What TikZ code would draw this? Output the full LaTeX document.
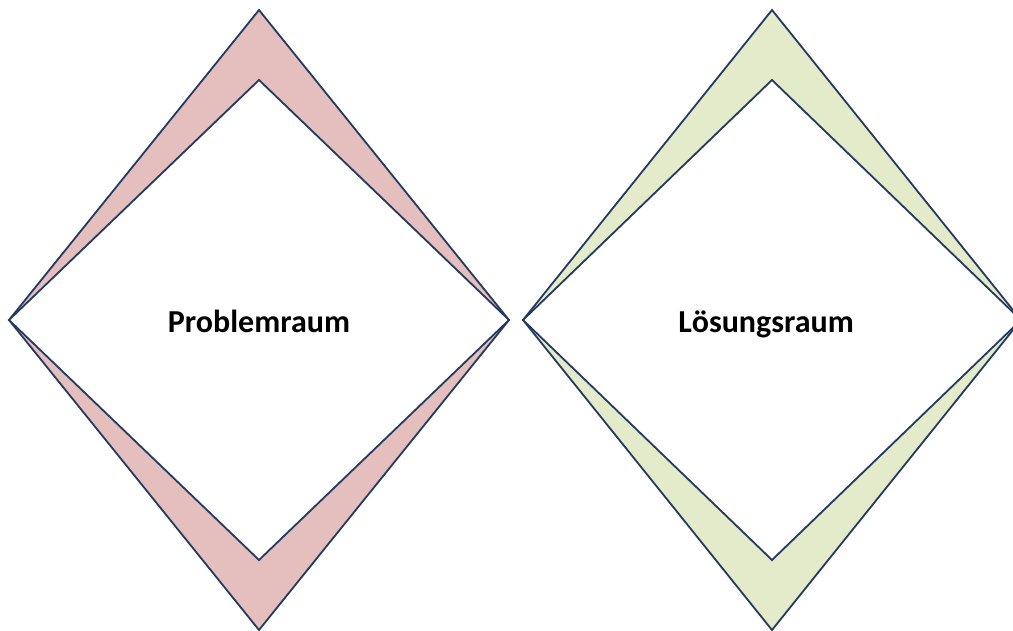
\documentclass[tikz,border=0pt]{standalone}
\usepackage{fontspec}
\setmainfont{Carlito}
\definecolor{edge}{HTML}{243A5E}
\definecolor{pinkfill}{HTML}{E5BEBE}
\definecolor{greenfill}{HTML}{E3EBCB}
\tikzset{
  shell/.style={draw=edge, line width=1.8pt, line join=miter},
  core/.style={draw=edge, line width=1.8pt, fill=white, line join=miter},
  lbl/.style={font=\bfseries\fontsize{32}{38}\selectfont, text=black, anchor=base}
}
\begin{document}
\begin{tikzpicture}[x=1pt,y=-1pt]
\useasboundingbox (0,0) rectangle (1013,630);
% left diamond
\coordinate (lt) at (259,10);
\coordinate (ll) at (9,320);
\coordinate (lr) at (509,320);
\coordinate (lb) at (259,630);
\coordinate (lit) at (259,80);
\coordinate (lib) at (259,560);
\draw[shell, fill=pinkfill] (lt) -- (lr) -- (lb) -- (ll) -- cycle;
\draw[core] (lit) -- (lr) -- (lib) -- (ll) -- cycle;
\node[lbl] (p) at (259,332) {Problemraum};
% right diamond
\coordinate (rt) at (772,10);
\coordinate (rl) at (523,320);
\coordinate (rr) at (1021,320);
\coordinate (rb) at (772,630);
\coordinate (rit) at (772,80);
\coordinate (rib) at (772,560);
\draw[shell, fill=greenfill] (rt) -- (rr) -- (rb) -- (rl) -- cycle;
\draw[core] (rit) -- (rr) -- (rib) -- (rl) -- cycle;
\node[lbl] (l) at (766,332) {Lösungsraum};
\end{tikzpicture}
\end{document}
